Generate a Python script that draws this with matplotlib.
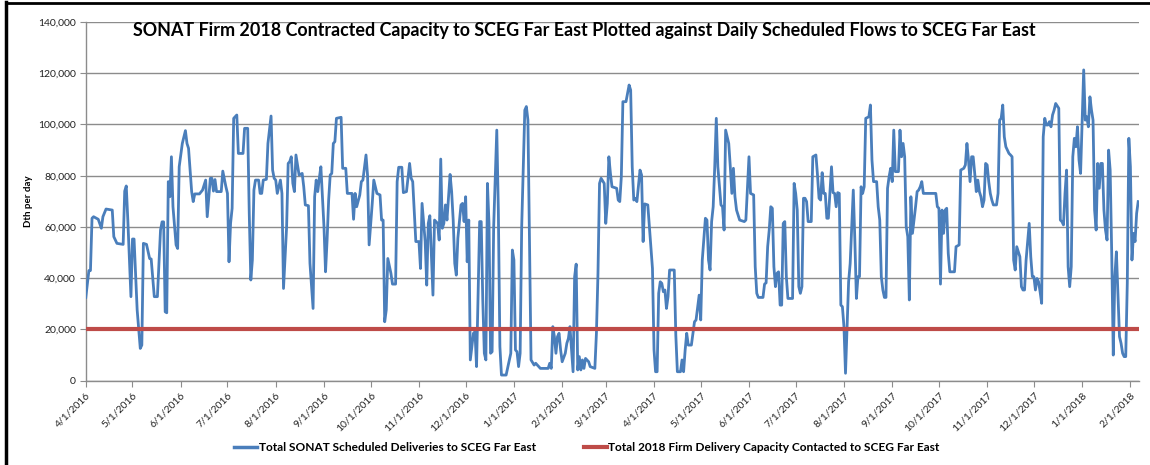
import numpy as np
import pandas as pd
import matplotlib
matplotlib.use("Agg")
import matplotlib.pyplot as plt
import matplotlib.dates as mdates
from matplotlib.ticker import FuncFormatter, MultipleLocator
from matplotlib.lines import Line2D

# daily scheduled flows (days after 4/1/2016, thousand Dth)
day_offset = [
    0, 2, 3, 4, 5, 8, 10, 11, 13, 17, 18, 20, 24, 25, 26, 27, 29, 30, 31, 33,
    35, 36, 37, 39, 41, 42, 44, 46, 48, 49, 50, 51, 52, 53, 54, 55, 56, 58, 59, 60,
    62, 64, 65, 66, 68, 69, 70, 73, 75, 77, 78, 80, 81, 82, 83, 84, 87, 88, 90, 91,
    92, 93, 94, 95, 97, 98, 101, 102, 104, 105, 106, 107, 108, 109, 111, 112, 113, 114, 116, 117,
    119, 120, 121, 122, 123, 125, 126, 127, 129, 130, 131, 132, 133, 134, 135, 137, 139, 140, 141, 143,
    144, 146, 147, 148, 149, 150, 151, 153, 154, 155, 156, 157, 158, 159, 160, 161, 164, 165, 167, 168,
    171, 172, 173, 174, 176, 177, 178, 180, 181, 182, 184, 185, 187, 189, 190, 191, 192, 193, 194, 196,
    197, 199, 200, 201, 203, 204, 206, 208, 209, 210, 212, 214, 215, 216, 218, 219, 220, 221, 223, 224,
    226, 227, 228, 229, 230, 231, 232, 234, 235, 236, 237, 238, 239, 241, 242, 243, 244, 245, 246, 247,
    249, 250, 251, 253, 254, 255, 256, 257, 258, 259, 260, 261, 262, 264, 265, 266, 267, 270, 273, 274,
    275, 276, 277, 278, 279, 280, 282, 283, 284, 285, 286, 288, 289, 292, 297, 298, 299, 300, 301, 302,
    303, 304, 305, 306, 308, 309, 310, 311, 312, 313, 314, 315, 316, 317, 318, 319, 320, 321, 323, 324,
    327, 328, 329, 330, 331, 333, 334, 335, 336, 337, 338, 341, 342, 343, 344, 345, 347, 349, 350, 351,
    352, 353, 354, 356, 357, 358, 359, 361, 363, 364, 365, 366, 367, 368, 369, 370, 371, 372, 373, 374,
    375, 378, 379, 380, 382, 383, 384, 385, 386, 387, 389, 390, 391, 392, 394, 395, 396, 398, 399, 400,
    401, 402, 403, 404, 405, 406, 408, 409, 410, 411, 413, 414, 415, 416, 417, 418, 420, 423, 424, 426,
    427, 429, 430, 431, 432, 435, 436, 437, 438, 439, 440, 441, 442, 443, 444, 445, 446, 447, 448, 449,
    450, 451, 454, 455, 456, 457, 458, 459, 460, 461, 462, 463, 464, 466, 467, 469, 470, 471, 472, 473,
    474, 475, 476, 477, 479, 480, 481, 482, 483, 484, 485, 486, 487, 488, 489, 490, 491, 493, 494, 495,
    496, 497, 498, 499, 500, 501, 503, 504, 505, 506, 508, 509, 510, 511, 512, 513, 514, 515, 516, 517,
    518, 519, 520, 522, 523, 524, 525, 526, 527, 528, 529, 530, 531, 532, 533, 534, 535, 536, 537, 538,
    546, 547, 548, 549, 550, 551, 552, 553, 554, 555, 558, 559, 561, 562, 564, 565, 566, 567, 568, 569,
    570, 571, 572, 573, 574, 575, 576, 577, 578, 579, 580, 581, 582, 583, 585, 586, 587, 588, 589, 590,
    591, 593, 594, 595, 596, 597, 598, 600, 601, 602, 603, 604, 606, 607, 608, 609, 610, 611, 612, 613,
    614, 615, 616, 617, 618, 619, 620, 621, 622, 623, 625, 626, 627, 628, 629, 630, 631, 632, 633, 634,
    635, 636, 637, 638, 639, 640, 641, 642, 643, 644, 645, 646, 647, 648, 649, 650, 651, 652, 653, 654,
    655, 656, 657, 658, 659, 660, 661, 662, 664, 665, 666, 667, 668, 669, 670, 671, 672, 673, 674, 675,
    676,
]
flow_k = [
    32.5, 43, 43, 63.4, 64, 63, 59.5, 64, 67, 66.6, 56.2, 53.6, 53.2, 74, 76, 62.7, 32.8, 55.3, 55.3, 27.6,
    12.6, 13.9, 53.6, 53.2, 47.7, 47.5, 32.8, 32.8, 58.8, 62, 62, 26.9, 26.5, 77.7, 71.8, 87.4, 67.9, 53, 51.6, 83.5,
    92.6, 97.6, 92.6, 90.7, 73.8, 69.9, 72.9, 72.9, 74.4, 78.3, 64, 79, 79, 74, 78.5, 73.8, 73.8, 81.8, 75.7, 73.1,
    46.4, 61.4, 67.3, 102.4, 103.7, 88.7, 88.7, 98.5, 98.5, 65.3, 39.3, 47.1, 74.4, 78.3, 78.3, 73.1, 73.1, 78.3, 78.6, 92.6,
    103.3, 82.2, 79, 78.3, 73.1, 78.3, 73.1, 36, 60.1, 84.8, 85.5, 87.4, 77, 73.8, 88.1, 80.3, 80.9, 75.7, 68.6, 68.3,
    45.8, 28.2, 71.8, 78.3, 73.8, 79, 83.5, 60.1, 42.5, 54.9, 70.5, 80.3, 80.9, 92.6, 93.3, 102.4, 102.8, 82.9, 82.9, 73.1,
    73.1, 63, 73.1, 67.9, 72.5, 77.7, 78.3, 88.1, 80, 53, 69.2, 78.3, 73.1, 72.5, 62.7, 62.7, 23, 27.6, 47.7, 41.9,
    37.7, 37.7, 77.7, 83.3, 83.3, 73.4, 73.8, 84.8, 79, 77.7, 54.3, 54.3, 43.8, 69.2, 54.3, 37.3, 61.4, 64.4, 33.4, 62.7,
    61.4, 54.9, 86.5, 59.5, 61.4, 68.6, 62.7, 80.5, 73.8, 62.7, 45.8, 41.2, 55.6, 68.6, 69.2, 62.1, 71.8, 46.4, 62.7, 8.1,
    18.5, 19.1, 5.5, 62.1, 62.1, 31.5, 10.7, 8.1, 77, 61.4, 10.7, 11.3, 60.1, 97.8, 66.6, 13.3, 2.2, 2.2, 10.7, 51,
    47.1, 12, 11.3, 5.5, 10.7, 60.1, 105.6, 107, 101.7, 53.6, 8.1, 6.1, 6.8, 4.8, 4.8, 6.8, 4.8, 21.1, 17.2, 10.7,
    17.2, 18.5, 12, 7.4, 10.7, 14.6, 16.5, 21.1, 12, 3.5, 40.6, 45.5, 4.2, 9.4, 4.2, 8.1, 4.8, 8.7, 7.4, 5.5,
    4.8, 18.5, 41.9, 77, 79, 77, 61.4, 69.2, 87.4, 80.9, 75.7, 75.1, 70.5, 69.9, 79.6, 108.9, 108.9, 115.4, 113.4, 83.5,
    70.5, 71.2, 69.9, 82.2, 80.3, 54.3, 69, 68.6, 52.3, 43.8, 12, 3.5, 3.5, 34.1, 38.6, 38, 34.7, 35.4, 28.2, 32.8,
    43.2, 43.2, 17.8, 3.5, 3.5, 8.1, 3.5, 12, 18.5, 13.9, 13.9, 18.5, 23, 23.7, 33.4, 23.7, 47.1, 63.4, 62.7, 47.1,
    43.2, 62.1, 67.9, 83.5, 102.4, 83.5, 68.6, 67.9, 58.8, 97.8, 92.6, 83.5, 73.1, 82.9, 71.8, 66.6, 62.7, 62.1, 62.7, 87.4,
    73.1, 72.5, 44.5, 34.1, 32.5, 32.5, 37.7, 38.2, 52.3, 58.8, 67.9, 67.3, 44.5, 36.7, 41.9, 42.5, 29.5, 29.5, 61.4, 62.1,
    40.6, 32.1, 32.1, 77, 73.1, 66.6, 36.7, 34.1, 36.7, 71.2, 71.2, 69.9, 62.1, 62.1, 87.4, 88.1, 80.3, 71.2, 70.5, 81.2,
    73.1, 73.1, 63.4, 63.4, 83.5, 73.4, 73.1, 67.9, 73.4, 73.1, 29.5, 28.9, 21.1, 2.9, 21.1, 38.6, 45.8, 74.4, 54.9, 32.1,
    40.6, 40.6, 75.7, 73.1, 75.7, 102.4, 103, 107.6, 86.1, 77.7, 77.7, 67.9, 62.7, 40.6, 35.4, 32.5, 32.5, 75.1, 79.6, 82.9,
    77.7, 97.8, 81.6, 81.6, 97.8, 87.4, 92.6, 87.4, 60.1, 56.2, 31.5, 71.8, 57.5, 62.7, 67.9, 73.8, 74.4, 75.7, 77.7, 73.1,
    73.1, 67.9, 67.3, 37.7, 66.6, 57.5, 66.6, 67.3, 49.7, 42.5, 42.5, 52.3, 53, 82.2, 82.9, 84.2, 92.6, 86.1, 77.7, 87.4,
    87.4, 80.9, 73.8, 78.3, 73.8, 71.8, 67.9, 70.5, 84.8, 84.2, 77.7, 73.1, 70.5, 68.6, 68.6, 73.1, 101.7, 102.4, 107.6, 95.2,
    91.3, 88.7, 88.1, 87.4, 47.1, 43.2, 52.3, 48.4, 36.7, 35.4, 35.4, 47.1, 61.4, 48.4, 40.6, 40.6, 35.4, 39.9, 38.6, 34.7,
    30.2, 95.2, 102.4, 99.8, 99.8, 101.1, 99.1, 103.7, 105.6, 108.2, 106.3, 62.7, 62.1, 60.8, 73.1, 82.2, 44.5, 36.7, 44.5, 87.4,
    94.6, 91.3, 99.1, 86.1, 80.9, 101.7, 121.3, 101.7, 103, 99.1, 110.8, 105.6, 101.7, 66.6, 58.8, 84.8, 75.1, 84.8, 84.8, 66.6,
    58.8, 54.9, 90, 82.2, 49.7, 10, 40.6, 50.3, 17.2, 14.6, 10.7, 9.4, 9.4, 38, 94.6, 83.5, 47.1, 57.5, 54.3, 65.3,
    69.9,
]
capacity = 20000

start = pd.Timestamp("2016-04-01")
dates = start + pd.to_timedelta(day_offset, unit="D")
flows = np.array(flow_k) * 1000
cap_dates = [dates[0], dates[-1]]
tick_dates = pd.date_range("2016-04-01", "2018-02-01", freq="MS")

blue = "#4A7EBB"
red = "#BE4B48"
grid_col = "#8C8C8C"

plt.rcParams["font.family"] = ["Lato", "DejaVu Sans"]

fig = plt.figure(figsize=(11.5, 4.65), dpi=100)
ax = fig.add_axes([0.0746, 0.1813, 0.9158, 0.7714])

ax.plot(dates, flows, color=blue, lw=2.0, solid_joinstyle="round", zorder=3)
ax.plot(cap_dates, [capacity, capacity], color=red, lw=3.0, zorder=4)

ax.set_xlim(start, start + pd.Timedelta(days=676.5))
ax.set_ylim(0, 140000)
ax.yaxis.set_major_locator(MultipleLocator(20000))
ax.yaxis.set_major_formatter(FuncFormatter(lambda v, p: f"{int(v):,}"))
ax.grid(axis="y", color=grid_col, lw=1.0)
ax.set_axisbelow(True)

ax.set_xticks(tick_dates)
ax.xaxis.set_major_formatter(FuncFormatter(
    lambda v, p: f"{mdates.num2date(v).month}/1/{mdates.num2date(v).year}"))
for lbl in ax.get_xticklabels():
    lbl.set_rotation(45)
    lbl.set_ha("right")
    lbl.set_rotation_mode("anchor")

ax.tick_params(axis="both", direction="out", length=4, width=0.8, color=grid_col,
               labelsize=7.5, labelcolor="#222222")
ax.tick_params(axis="x", pad=3)
ax.tick_params(axis="y", pad=3)

for s in ["top", "right"]:
    ax.spines[s].set_visible(False)
for s in ["left", "bottom"]:
    ax.spines[s].set_color(grid_col)
    ax.spines[s].set_linewidth(1.0)

ax.set_ylabel("Dth per day", fontsize=7, fontweight="bold", labelpad=4)

fig.text(0.508, 0.934, "SONAT Firm 2018 Contracted Capacity to SCEG Far East Plotted against "
         "Daily Scheduled Flows to SCEG Far East", ha="center", va="center",
         fontsize=12.9, fontweight="bold")

handles = [Line2D([], [], color=blue, lw=2.5), Line2D([], [], color=red, lw=3)]
labels = ["Total SONAT Scheduled Deliveries to SCEG Far East",
          "Total 2018 Firm Delivery Capacity Contacted to SCEG Far East"]
fig.legend(handles, labels, loc="center", bbox_to_anchor=(0.5105, 0.038), ncol=2,
           frameon=False, prop={"weight": "bold", "size": 8.6}, handlelength=1.9,
           handletextpad=0.15, columnspacing=4.0)

# outer frame (left and top edges)
fig.add_artist(Line2D([0.005, 0.005], [0, 0.995], transform=fig.transFigure,
                      color="black", lw=2.5))
fig.add_artist(Line2D([0.005, 1.0], [0.994, 0.994], transform=fig.transFigure,
                      color="black", lw=2.0))

fig.savefig("out.png", dpi=100)
